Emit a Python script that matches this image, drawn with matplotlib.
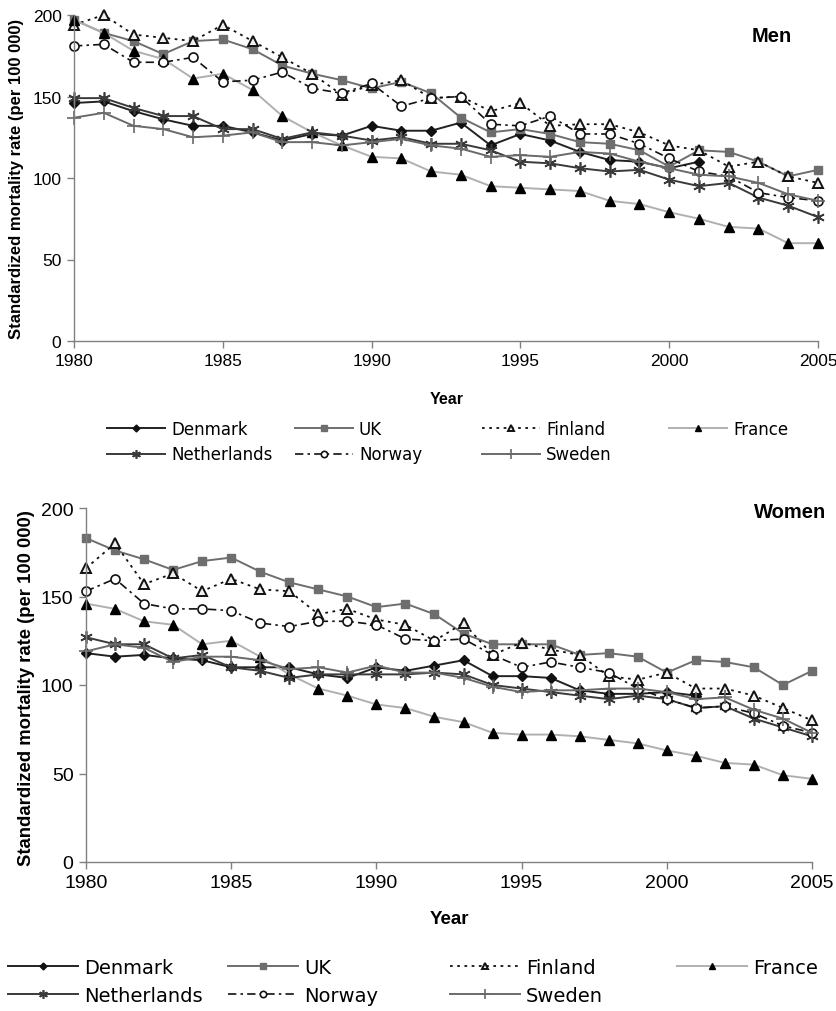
import numpy as np
import matplotlib
matplotlib.use("Agg")
import matplotlib.pyplot as plt

plt.rcParams['font.family'] = ['Liberation Sans', 'DejaVu Sans']

# Data
years = list(range(1980, 2006))
years_dk = list(range(1980, 2002))

denmark_men = [146, 147, 141, 136, 132, 132, 128, 123, 127, 126, 132, 129, 129, 134, 120, 127, 123, 116, 111, 110, 106, 110]
uk_men = [197, 189, 184, 176, 184, 185, 179, 169, 164, 160, 155, 159, 152, 137, 128, 130, 127, 122, 121, 117, 107, 117, 116, 110, 101, 105]
finland_men = [194, 200, 188, 186, 184, 194, 184, 174, 164, 151, 157, 160, 149, 150, 141, 146, 132, 133, 133, 128, 120, 117, 107, 110, 101, 97]
france_men = [197, 189, 178, 173, 161, 164, 154, 138, 128, 120, 113, 112, 104, 102, 95, 94, 93, 92, 86, 84, 79, 75, 70, 69, 60, 60]
netherlands_men = [149, 149, 143, 138, 138, 130, 130, 124, 128, 126, 123, 125, 121, 121, 117, 110, 109, 106, 104, 105, 99, 95, 97, 88, 83, 76]
norway_men = [181, 182, 171, 171, 174, 159, 160, 165, 155, 152, 158, 144, 149, 150, 133, 132, 138, 127, 127, 121, 112, 104, 101, 91, 88, 86]
sweden_men = [137, 140, 132, 130, 125, 126, 128, 122, 122, 120, 122, 124, 120, 118, 113, 114, 113, 116, 115, 110, 106, 102, 101, 97, 90, 86]

denmark_women = [118, 116, 117, 115, 114, 110, 110, 110, 106, 104, 110, 108, 111, 114, 105, 105, 104, 97, 95, 95, 96, 94]
uk_women = [183, 176, 171, 165, 170, 172, 164, 158, 154, 150, 144, 146, 140, 129, 123, 123, 123, 117, 118, 116, 107, 114, 113, 110, 100, 108]
finland_women = [166, 180, 157, 163, 153, 160, 154, 153, 140, 143, 137, 134, 125, 135, 117, 124, 120, 117, 105, 103, 107, 98, 98, 94, 87, 80]
france_women = [146, 143, 136, 134, 123, 125, 116, 106, 98, 94, 89, 87, 82, 79, 73, 72, 72, 71, 69, 67, 63, 60, 56, 55, 49, 47]
netherlands_women = [127, 123, 123, 115, 117, 110, 108, 104, 106, 106, 106, 106, 107, 106, 100, 98, 96, 94, 92, 94, 92, 87, 88, 81, 76, 71]
norway_women = [153, 160, 146, 143, 143, 142, 135, 133, 136, 136, 134, 126, 125, 126, 117, 110, 113, 110, 107, 98, 92, 87, 88, 84, 77, 73]
sweden_women = [119, 123, 121, 113, 116, 116, 114, 109, 110, 107, 111, 107, 107, 104, 99, 96, 97, 97, 98, 98, 96, 92, 93, 86, 81, 73]

# line styles per country
styles = {
    'Denmark': dict(color='#222222', ls='-', lw=1.4, marker='D', ms=5, mfc='#111111', mec='#111111'),
    'UK': dict(color='#6e6e6e', ls='-', lw=1.4, marker='s', ms=6, mfc='#6e6e6e', mec='#6e6e6e'),
    'Finland': dict(color='#111111', ls=(0, (1.5, 2.5)), lw=1.3, marker='^', ms=7, mfc='#f0f0f0', mec='#111111', mew=1.4),
    'France': dict(color='#b0b0b0', ls='-', lw=1.4, marker='^', ms=7, mfc='#000000', mec='#000000'),
    'Netherlands': dict(color='#3a3a3a', ls='-', lw=1.4, marker=(6, 2, 0), ms=9, mfc='none', mec='#3a3a3a', mew=1.2),
    'Norway': dict(color='#111111', ls=(0, (5, 2.5, 1.5, 2.5)), lw=1.2, marker='o', ms=6.5, mfc='white', mec='#111111', mew=1.2),
    'Sweden': dict(color='#6a6a6a', ls='-', lw=1.4, marker='+', ms=10, mfc='none', mec='#6a6a6a', mew=1.2),
}

men = [('Denmark', years_dk, denmark_men), ('UK', years, uk_men), ('Finland', years, finland_men),
       ('France', years, france_men), ('Netherlands', years, netherlands_men),
       ('Norway', years, norway_men), ('Sweden', years, sweden_men)]
women = [('Denmark', years_dk, denmark_women), ('UK', years, uk_women), ('Finland', years, finland_women),
         ('France', years, france_women), ('Netherlands', years, netherlands_women),
         ('Norway', years, norway_women), ('Sweden', years, sweden_women)]

W, H = 836, 1012
fig = plt.figure(figsize=(W / 100, H / 100), dpi=100)


def fx(px):
    return px / W


def fy(py):
    return 1 - py / H


def panel(rect, series, tick_fs):
    ax = fig.add_axes(rect)
    handles = {}
    for name, xs, ys in series:
        st = styles[name]
        line, = ax.plot(xs, ys, label=name, clip_on=False, **st)
        handles[name] = line
    ax.set_xlim(1980, 2005)
    ax.set_ylim(0, 200)
    ax.set_xticks(range(1980, 2006, 5))
    ax.set_yticks(range(0, 201, 50))
    for s in ['top', 'right']:
        ax.spines[s].set_visible(False)
    for s in ['left', 'bottom']:
        ax.spines[s].set_color('#808080')
        ax.spines[s].set_linewidth(1.0)
    ax.tick_params(direction='out', length=5, width=1, color='#808080',
                   labelsize=tick_fs, pad=4)
    return ax, handles


ax1, h1 = panel([fx(74), fy(342), fx(818) - fx(74), (342 - 16) / H], men, 12.5)
ax2, h2 = panel([fx(86), fy(863), fx(812) - fx(86), (863 - 509) / H], women, 14)

# titles and labels
fig.text(fx(792), fy(36), 'Men', ha='right', va='center', fontsize=14.5, fontweight='bold')
fig.text(fx(826), fy(513), 'Women', ha='right', va='center', fontsize=14.5, fontweight='bold')
fig.text(fx(447), fy(400), 'Year', ha='center', va='center', fontsize=11.5, fontweight='bold')
fig.text(fx(449), fy(920), 'Year', ha='center', va='center', fontsize=13.5, fontweight='bold')
fig.text(fx(17), fy(179), 'Standardized mortality rate (per 100 000)', rotation=90,
         ha='center', va='center', fontsize=12, fontweight='bold')
fig.text(fx(27), fy(688), 'Standardized mortality rate (per 100 000)', rotation=90,
         ha='center', va='center', fontsize=13.3, fontweight='bold')

# legends: one legend per column, Excel-like layout
columns = [['Denmark', 'Netherlands'], ['UK', 'Norway'], ['Finland', 'Sweden'], ['France']]


def legend_block(handles, col_x, top_y, fs, hlen_px, gap_px):
    for names, x in zip(columns, col_x):
        fig.legend([handles[n] for n in names], names, loc='upper left',
                   bbox_to_anchor=(fx(x), fy(top_y)), frameon=False,
                   prop={'family': 'DejaVu Sans', 'size': fs},
                   handlelength=hlen_px / (fs * 100 / 72), handletextpad=gap_px / (fs * 100 / 72),
                   borderpad=0, borderaxespad=0, labelspacing=0.45, markerscale=0.7,
                   numpoints=1)


legend_block(h1, [107, 295, 482, 669], 421, 12, 58, 6)
legend_block(h2, [8, 228, 450, 677], 959, 14, 70, 6)

fig.savefig('out.png', dpi=100)
